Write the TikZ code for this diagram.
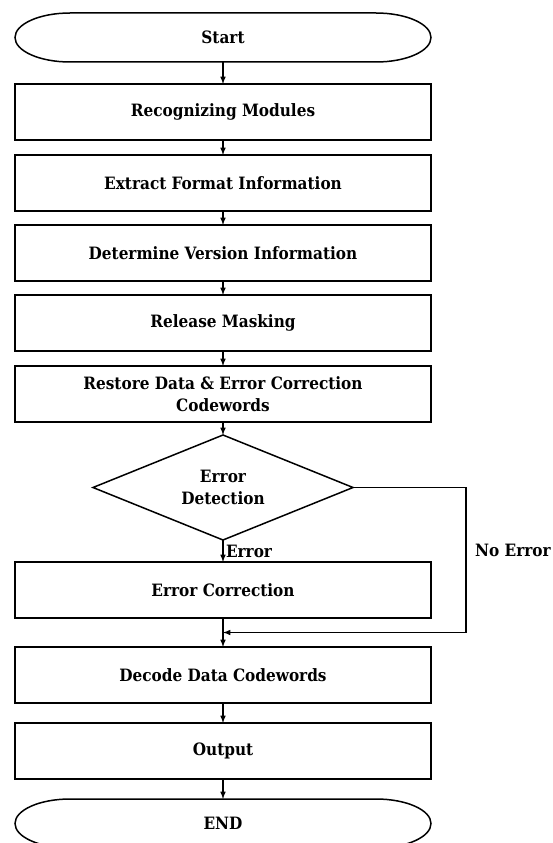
\documentclass[tikz,border=0pt]{standalone}
\usepackage{fontspec}
\setmainfont{DejaVu Serif Condensed}
\usetikzlibrary{positioning,arrows,calc,shapes.geometric}

\newcommand{\termline}[1]{%
  \draw ([xshift=55pt]#1.north west) -- ([xshift=-55pt]#1.north east)
    arc[start angle=90, end angle=-90, x radius=55pt, y radius=24.5pt]
    -- ([xshift=55pt]#1.south west)
    arc[start angle=270, end angle=90, x radius=55pt, y radius=24.5pt] -- cycle;}

\begin{document}
\begin{tikzpicture}[node distance=14pt, >=latex, x=1pt, y=1pt, line width=1.5pt,
    every node/.style={outer sep=0pt},
    txt/.style={font=\bfseries\fontsize{17}{22}\selectfont},
    box/.style={txt, draw, minimum width=416pt, minimum height=56pt, align=center},
    term/.style={txt, minimum width=416pt, minimum height=49pt},
    decision/.style={txt, diamond, aspect=2.5, draw, minimum width=260pt, minimum height=105pt, align=center, inner sep=0pt}]

    \useasboundingbox (0,0) rectangle (553,-843);

    \node (start) [term] at (223,-37.5) {Start};
    \node (recog) [box, below=22pt of start] {Recognizing Modules};
    \node (format) [box, below=15pt of recog] {Extract Format Information};
    \node (version) [box, below=of format] {Determine Version Information};
    \node (mask) [box, below=of version] {Release Masking};
    \node (restore) [box, below=15pt of mask] {Restore Data \& Error Correction\\Codewords};
    \node (detect) [decision, below=13pt of restore] {Error\\Detection};
    \node (correct) [box, below=22pt of detect] {Error Correction};
    \node (decode) [box, below=29pt of correct] {Decode Data Codewords};
    \node (output) [box, below=20pt of decode] {Output};
    \node (finish) [term, below=20pt of output] {END};

    \termline{start}
    \termline{finish}

    \path[->] (start) edge (recog);
    \path[->] (recog) edge (format);
    \path[->] (format) edge (version);
    \path[->] (version) edge (mask);
    \path[->] (mask) edge (restore);
    \path[->] (restore) edge (detect);
    \path[->] (detect) edge node[txt, right, inner sep=3pt] (errlbl) {Error} (correct);
    \path[->] (correct) edge (decode);
    \path[->] (decode) edge (output);
    \path[->] (output) edge (finish);

    \coordinate (merge) at ($(correct.south)!0.5!(decode.north)$);
    \coordinate (turn) at ([xshift=243pt]merge);
    \draw[->] (detect.east) -| (turn) -- (merge);
    \node (noerr) [txt] at (513,-550) {No Error};

\end{tikzpicture}
\end{document}
